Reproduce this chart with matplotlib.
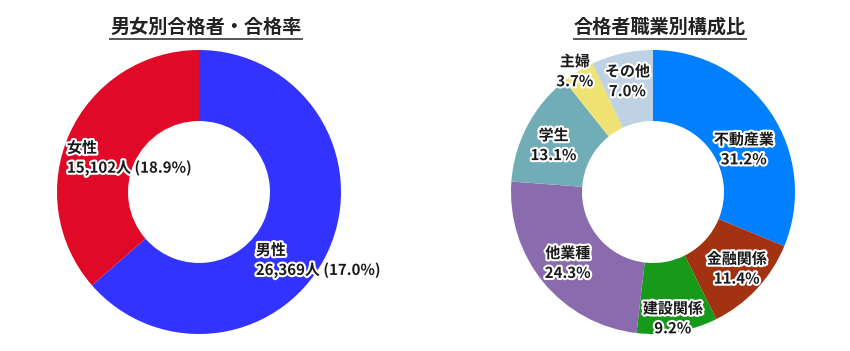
import matplotlib
matplotlib.use("Agg")
import matplotlib.pyplot as plt
import matplotlib.patheffects as pe

plt.rcParams["font.family"] = ["Noto Sans CJK JP", "DejaVu Sans"]

# left chart: passers by gender
gender_labels = ["男性", "女性"]
gender_counts = [26369, 15102]
gender_rates = ["17.0%", "18.9%"]
gender_colors = ["#3333FF", "#E00A28"]

# right chart: passers by occupation (%)
job_labels = ["不動産業", "金融関係", "建設関係", "他業種", "学生", "主婦", "その他"]
job_shares = [31.2, 11.4, 9.2, 24.3, 13.1, 3.7, 7.0]
job_colors = ["#0080FF", "#A23212", "#17991A", "#8A6BAE", "#70ADB6", "#EFE473", "#BFD2E3"]

W, H = 850, 351
fig = plt.figure(figsize=(W / 100, H / 100), dpi=100)

R_PX = 142
LIM = 1.05


def donut_axes(cx, cy):
    size = 2 * LIM * R_PX
    ax = fig.add_axes([(cx - size / 2) / W, (H - cy - size / 2) / H, size / W, size / H])
    return ax


def finish(ax):
    # pie() resets the limits, so set them afterwards
    ax.set_xlim(-LIM, LIM)
    ax.set_ylim(-LIM, LIM)
    ax.set_aspect("equal")
    ax.axis("off")


def title(x, y, s):
    t = fig.text(x / W, 1 - y / H, s, ha="center", va="center", fontsize=13.8,
                 fontweight="bold", color="#222222")
    fig.canvas.draw()
    bb = t.get_window_extent()
    fig.add_artist(plt.Line2D([bb.x0 / W, bb.x1 / W], [(H - 39) / H] * 2,
                              color="#555555", linewidth=1.4))


stroke = [pe.withStroke(linewidth=3, foreground="white")]


def label(ax, x, y, s, ha="center"):
    ax.text(x, y, s, ha=ha, va="center", fontsize=10.8, fontweight="bold",
            color="#1a1a1a", linespacing=1.3, path_effects=stroke)


# ---- left donut
ax1 = donut_axes(199, 192)
ax1.pie(gender_counts, colors=gender_colors, startangle=90, counterclock=False,
        radius=1, wedgeprops=dict(width=0.5, linewidth=0))
finish(ax1)
title(206, 27, "男女別合格者・合格率")
gender_pos = [(0.40, -0.48), (-0.93, 0.24)]
for name, n, rate, (x, y) in zip(gender_labels, gender_counts, gender_rates, gender_pos):
    label(ax1, x, y, f"{name}\n{n:,}人 ({rate})", ha="left")

# ---- right donut
ax2 = donut_axes(653, 192)
ax2.pie(job_shares, colors=job_colors, startangle=90, counterclock=False,
        radius=1, wedgeprops=dict(width=0.5, linewidth=0))
finish(ax2)
title(660, 27, "合格者職業別構成比")
job_pos = [(0.64, 0.30), (0.59, -0.54), (0.14, -0.89), (-0.60, -0.50),
           (-0.70, 0.33), (-0.55, 0.85), (-0.18, 0.78)]
for name, v, (x, y) in zip(job_labels, job_shares, job_pos):
    label(ax2, x, y, f"{name}\n{v:.1f}%")

fig.savefig("out.png", dpi=100)
